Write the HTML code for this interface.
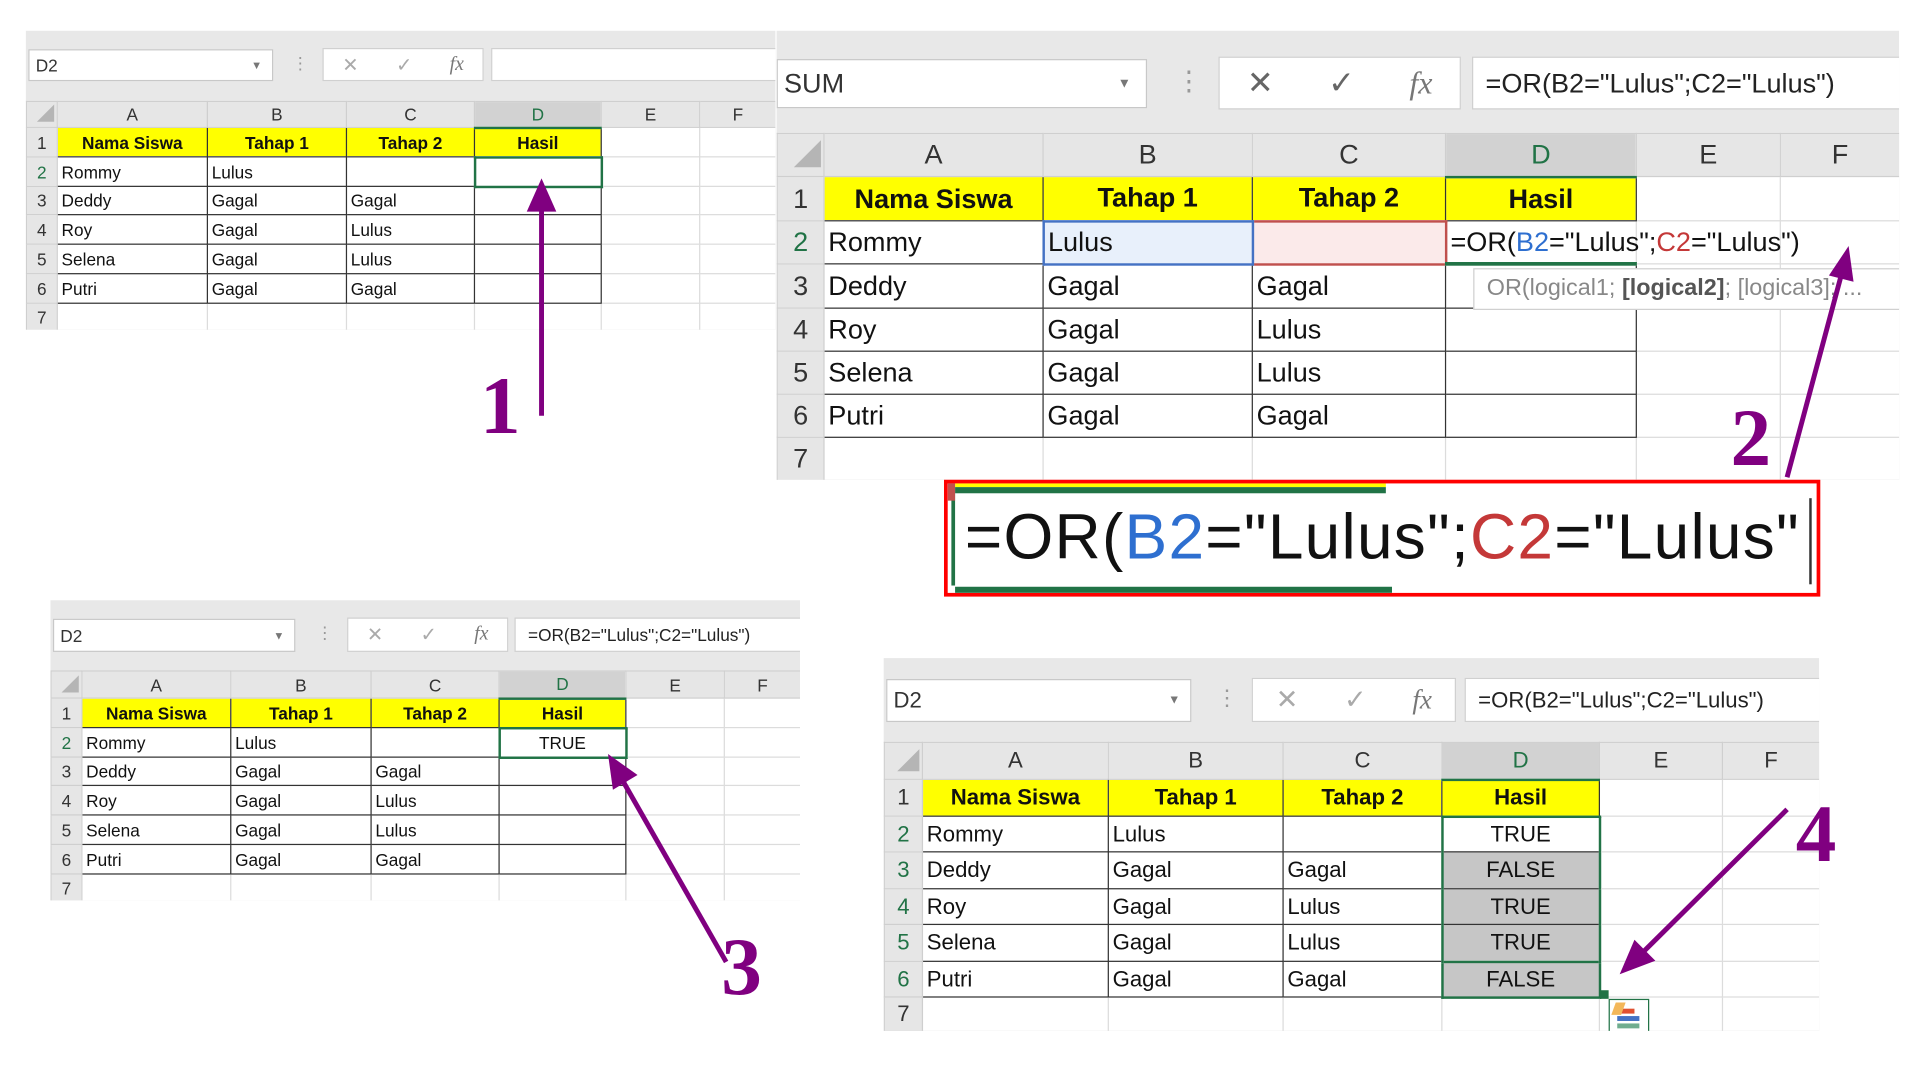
<!DOCTYPE html>
<html><head><meta charset="utf-8"><style>
html,body{margin:0;padding:0;background:#fff;width:1920px;height:1080px;overflow:hidden}
#st{position:absolute;left:0;top:0;width:1560px;height:878px;transform:scale(1.23077,1.2301);transform-origin:0 0;font-family:"Liberation Sans",sans-serif}
.p{position:absolute;background:#e8e8e8;overflow:hidden}
.nb{position:absolute;background:#fff;border:1px solid #c8c8c8;box-sizing:border-box;color:#333;display:flex;align-items:center;padding-left:5px}
.nb .dd{position:absolute;right:8px;color:#777;font-size:9px}
.dots{position:absolute;color:#999}
.bt{position:absolute;background:#fff;border:1px solid #d0d0d0;box-sizing:border-box;display:flex;align-items:center;justify-content:space-around;color:#aaa}
.bt i{font-family:"Liberation Serif",serif;color:#777}
.fb{position:absolute;background:#fff;border:1px solid #d0d0d0;box-sizing:border-box;display:flex;align-items:center;padding-left:10px;white-space:nowrap;color:#222}
table{position:absolute;border-collapse:collapse;table-layout:fixed;background:#fff}
td{border:1px solid #dcdcdc;padding:0 3px;white-space:nowrap;overflow:hidden;color:#111}
tr.h td{background:#e6e6e6;text-align:center;color:#333;border-color:#cfcfcf}
td.r{background:#e6e6e6;text-align:center;color:#333;border-color:#cfcfcf;padding:0}
tr.h td.sel{background:#d2d2d2;color:#217346;border-bottom:2px solid #217346}
td.rs{color:#217346}
td.y{background:#ffff00;font-weight:bold;text-align:center;border:1px solid #333}
td.b{border:1px solid #333}
td.c{text-align:center}
.tri{width:0;height:0;border-left:14px solid transparent;border-bottom:14px solid #b5b5b5;margin:auto 2px 2px auto}
</style></head><body><div id="st">

<!-- Panel 1 -->
<div class="p" style="left:21px;top:25px;width:609px;height:243px">
 <div class="nb" style="left:2px;top:15px;width:199px;height:26px;font-size:14px">D2<span class="dd">▼</span></div>
 <div class="dots" style="left:216px;top:18px;font-size:14px">⋮</div>
 <div class="bt" style="left:241px;top:14px;width:131px;height:27px;font-size:16px"><span>✕</span><span>✓</span><i>fx</i></div>
 <div class="fb" style="left:378px;top:14px;width:240px;height:27px"></div>
 <table style="left:0;top:57px;width:609px;font-size:14px">
  <colgroup><col style="width:25px"><col style="width:122px"><col style="width:113px"><col style="width:104px"><col style="width:103px"><col style="width:80px"><col style="width:62px"></colgroup>
  <tr class="h" style="height:21px"><td class="r"><div class="tri"></div></td><td>A</td><td>B</td><td>C</td><td class="sel">D</td><td>E</td><td>F</td></tr>
  <tr style="height:24px"><td class="r">1</td><td class="y">Nama Siswa</td><td class="y">Tahap 1</td><td class="y">Tahap 2</td><td class="y">Hasil</td><td></td><td></td></tr>
  <tr style="height:24px"><td class="r rs">2</td><td class="b">Rommy</td><td class="b">Lulus</td><td class="b"></td><td style="border:2px solid #217346"></td><td></td><td></td></tr>
  <tr style="height:23px"><td class="r">3</td><td class="b">Deddy</td><td class="b">Gagal</td><td class="b">Gagal</td><td class="b"></td><td></td><td></td></tr>
  <tr style="height:24px"><td class="r">4</td><td class="b">Roy</td><td class="b">Gagal</td><td class="b">Lulus</td><td class="b"></td><td></td><td></td></tr>
  <tr style="height:24px"><td class="r">5</td><td class="b">Selena</td><td class="b">Gagal</td><td class="b">Lulus</td><td class="b"></td><td></td><td></td></tr>
  <tr style="height:24px"><td class="r">6</td><td class="b">Putri</td><td class="b">Gagal</td><td class="b">Gagal</td><td class="b"></td><td></td><td></td></tr>
  <tr style="height:22px"><td class="r">7</td><td></td><td></td><td></td><td></td><td></td><td></td></tr>
 </table>
</div>

<!-- Panel 2 -->
<div class="p" style="left:631px;top:25px;width:912px;height:365px">
 <div class="nb" style="left:0;top:23px;width:301px;height:40px;font-size:22px">SUM<span class="dd" style="font-size:11px;right:12px">▼</span></div>
 <div class="dots" style="left:324px;top:28px;font-size:22px">⋮</div>
 <div class="bt" style="left:359px;top:21px;width:197px;height:43px;font-size:26px;color:#666"><span>✕</span><span>✓</span><i>fx</i></div>
 <div class="fb" style="left:565px;top:21px;width:360px;height:43px;font-size:22px">=OR(B2="Lulus";C2="Lulus")</div>
 <table style="left:0;top:83px;width:912px;font-size:22px">
  <colgroup><col style="width:38px"><col style="width:178px"><col style="width:170px"><col style="width:157px"><col style="width:155px"><col style="width:117px"><col style="width:97px"></colgroup>
  <tr class="h" style="height:35px"><td class="r"><div class="tri" style="border-left-width:22px;border-bottom-width:22px"></div></td><td>A</td><td>B</td><td>C</td><td class="sel">D</td><td>E</td><td>F</td></tr>
  <tr style="height:36px"><td class="r">1</td><td class="y">Nama Siswa</td><td class="y">Tahap 1</td><td class="y">Tahap 2</td><td class="y">Hasil</td><td></td><td></td></tr>
  <tr style="height:35px"><td class="r rs">2</td><td class="b">Rommy</td><td style="background:#e8f0fb;border:2px solid #4472c4">Lulus</td><td style="background:#fbeaea;border:2px solid #c0504d"></td><td style="overflow:visible;border-left:2px solid #217346;border-bottom:3px solid #217346;padding-left:3px">=OR(<span style="color:#2e6fd0">B2</span>="Lulus";<span style="color:#c43838">C2</span>="Lulus")</td><td></td><td></td></tr>
  <tr style="height:36px"><td class="r">3</td><td class="b">Deddy</td><td class="b">Gagal</td><td class="b">Gagal</td><td class="b"></td><td></td><td></td></tr>
  <tr style="height:35px"><td class="r">4</td><td class="b">Roy</td><td class="b">Gagal</td><td class="b">Lulus</td><td class="b"></td><td></td><td></td></tr>
  <tr style="height:35px"><td class="r">5</td><td class="b">Selena</td><td class="b">Gagal</td><td class="b">Lulus</td><td class="b"></td><td></td><td></td></tr>
  <tr style="height:35px"><td class="r">6</td><td class="b">Putri</td><td class="b">Gagal</td><td class="b">Gagal</td><td class="b"></td><td></td><td></td></tr>
  <tr style="height:35px"><td class="r">7</td><td></td><td></td><td></td><td></td><td></td><td></td></tr>
 </table>
 <div style="position:absolute;left:566px;top:193px;width:360px;height:34px;background:#fff;border:1px solid #d0d0d0;box-sizing:border-box;font-size:19px;color:#888;padding:5px 0 0 10px;white-space:nowrap">OR(logical1; <b style="color:#555">[logical2]</b>; [logical3]; ...</div>
</div>

<!-- zoomed formula -->
<div style="position:absolute;left:767px;top:390px;width:712px;height:95px;border:3px solid #f00;box-sizing:border-box;background:#fff;overflow:hidden">
 <div style="position:absolute;left:6px;top:0;width:350px;height:3px;background:#ff0"></div>
 <div style="position:absolute;left:6px;top:3px;width:350px;height:5px;background:#217346"></div>
 <div style="position:absolute;left:6px;bottom:0;width:355px;height:5px;background:#217346"></div>
 <div style="position:absolute;left:3px;top:8px;width:3px;height:75px;background:#217346"></div>
 <div style="position:absolute;left:0;top:0;width:6px;height:14px;background:#c0504d"></div>
 <div style="position:absolute;left:14px;top:14px;font-size:52px;white-space:nowrap;color:#111;letter-spacing:1px">=OR(<span style="color:#2e6fd0">B2</span>="Lulus";<span style="color:#c43838">C2</span>="Lulus"</div>
 <div style="position:absolute;left:700px;top:12px;width:2px;height:70px;background:#333"></div>
</div>

<!-- Panel 3 -->
<div class="p" style="left:41px;top:488px;width:609px;height:244px">
 <div class="nb" style="left:2px;top:15px;width:197px;height:27px;font-size:14px">D2<span class="dd">▼</span></div>
 <div class="dots" style="left:216px;top:18px;font-size:14px">⋮</div>
 <div class="bt" style="left:241px;top:14px;width:131px;height:28px;font-size:16px"><span>✕</span><span>✓</span><i>fx</i></div>
 <div class="fb" style="left:377px;top:14px;width:240px;height:28px;font-size:14px">=OR(B2="Lulus";C2="Lulus")</div>
 <table style="left:0;top:57px;width:609px;font-size:14px">
  <colgroup><col style="width:25px"><col style="width:121px"><col style="width:114px"><col style="width:104px"><col style="width:103px"><col style="width:80px"><col style="width:62px"></colgroup>
  <tr class="h" style="height:22px"><td class="r"><div class="tri"></div></td><td>A</td><td>B</td><td>C</td><td class="sel">D</td><td>E</td><td>F</td></tr>
  <tr style="height:24px"><td class="r">1</td><td class="y">Nama Siswa</td><td class="y">Tahap 1</td><td class="y">Tahap 2</td><td class="y">Hasil</td><td></td><td></td></tr>
  <tr style="height:24px"><td class="r rs">2</td><td class="b">Rommy</td><td class="b">Lulus</td><td class="b"></td><td class="c" style="border:2px solid #217346">TRUE</td><td></td><td></td></tr>
  <tr style="height:23px"><td class="r">3</td><td class="b">Deddy</td><td class="b">Gagal</td><td class="b">Gagal</td><td class="b"></td><td></td><td></td></tr>
  <tr style="height:24px"><td class="r">4</td><td class="b">Roy</td><td class="b">Gagal</td><td class="b">Lulus</td><td class="b"></td><td></td><td></td></tr>
  <tr style="height:24px"><td class="r">5</td><td class="b">Selena</td><td class="b">Gagal</td><td class="b">Lulus</td><td class="b"></td><td></td><td></td></tr>
  <tr style="height:24px"><td class="r">6</td><td class="b">Putri</td><td class="b">Gagal</td><td class="b">Gagal</td><td class="b"></td><td></td><td></td></tr>
  <tr style="height:22px"><td class="r">7</td><td></td><td></td><td></td><td></td><td></td><td></td></tr>
 </table>
</div>

<!-- Panel 4 -->
<div class="p" style="left:718px;top:535px;width:760px;height:303px">
 <div class="nb" style="left:2px;top:17px;width:248px;height:35px;font-size:18px">D2<span class="dd" style="font-size:10px">▼</span></div>
 <div class="dots" style="left:270px;top:22px;font-size:18px">⋮</div>
 <div class="bt" style="left:299px;top:16px;width:166px;height:36px;font-size:22px"><span>✕</span><span>✓</span><i>fx</i></div>
 <div class="fb" style="left:472px;top:16px;width:300px;height:36px;font-size:18px">=OR(B2="Lulus";C2="Lulus")</div>
 <table style="left:0;top:68px;width:760px;font-size:18px">
  <colgroup><col style="width:31px"><col style="width:151px"><col style="width:142px"><col style="width:129px"><col style="width:128px"><col style="width:100px"><col style="width:79px"></colgroup>
  <tr class="h" style="height:30px"><td class="r"><div class="tri" style="border-left-width:18px;border-bottom-width:18px"></div></td><td>A</td><td>B</td><td>C</td><td class="sel">D</td><td>E</td><td>F</td></tr>
  <tr style="height:30px"><td class="r">1</td><td class="y">Nama Siswa</td><td class="y">Tahap 1</td><td class="y">Tahap 2</td><td class="y">Hasil</td><td></td><td></td></tr>
  <tr style="height:29px"><td class="r rs">2</td><td class="b">Rommy</td><td class="b">Lulus</td><td class="b"></td><td class="c" style="border:2px solid #217346;border-bottom:1px solid #333">TRUE</td><td></td><td></td></tr>
  <tr style="height:30px"><td class="r rs">3</td><td class="b">Deddy</td><td class="b">Gagal</td><td class="b">Gagal</td><td class="c b" style="background:#c6c6c6;border-left:2px solid #217346;border-right:2px solid #217346">FALSE</td><td></td><td></td></tr>
  <tr style="height:29px"><td class="r rs">4</td><td class="b">Roy</td><td class="b">Gagal</td><td class="b">Lulus</td><td class="c b" style="background:#c6c6c6;border-left:2px solid #217346;border-right:2px solid #217346">TRUE</td><td></td><td></td></tr>
  <tr style="height:30px"><td class="r rs">5</td><td class="b">Selena</td><td class="b">Gagal</td><td class="b">Lulus</td><td class="c b" style="background:#c6c6c6;border-left:2px solid #217346;border-right:2px solid #217346">TRUE</td><td></td><td></td></tr>
  <tr style="height:29px"><td class="r rs">6</td><td class="b">Putri</td><td class="b">Gagal</td><td class="b">Gagal</td><td class="c" style="background:#c6c6c6;border:2px solid #217346">FALSE</td><td></td><td></td></tr>
  <tr style="height:28px"><td class="r">7</td><td></td><td></td><td></td><td></td><td></td><td></td></tr>
 </table>
 <div style="position:absolute;left:582px;top:270px;width:7px;height:7px;background:#217346"></div>
 <div style="position:absolute;left:589px;top:277px;width:33px;height:30px;border:1px solid #217346;background:#fff;box-sizing:border-box">
  <div style="position:absolute;left:6px;top:7px;width:14px;height:4px;background:#e05030"></div>
  <div style="position:absolute;left:6px;top:13px;width:18px;height:4px;background:#4472c4"></div>
  <div style="position:absolute;left:6px;top:19px;width:18px;height:4px;background:#70ad8f"></div>
  <div style="position:absolute;left:3px;top:2px;width:8px;height:10px;background:#f3b75a;transform:skewX(-20deg)"></div>
 </div>
</div>

<!-- arrows & numbers -->
<svg style="position:absolute;left:0;top:0" width="1560" height="878" viewBox="0 0 1560 878">
 <g stroke="#800080" stroke-width="4" fill="#800080">
  <line x1="440" y1="338" x2="440" y2="165"/>
  <polygon points="440,145 428,172 452,172" stroke="none"/>
  <line x1="1452" y1="388" x2="1497" y2="220"/>
  <polygon points="1502,200 1486,224 1506,229" stroke="none"/>
  <line x1="590" y1="782" x2="505" y2="633"/>
  <polygon points="494,613 498,642 518,630" stroke="none"/>
  <line x1="1452" y1="658" x2="1333" y2="776"/>
  <polygon points="1316,792 1328,764 1345,781" stroke="none"/>
 </g>
 <g font-family="Liberation Serif, serif" font-weight="bold" font-size="66" fill="#800080">
  <text x="390" y="352">1</text>
  <text x="1406" y="378">2</text>
  <text x="586" y="808">3</text>
  <text x="1459" y="700">4</text>
 </g>
</svg>
</div></body></html>
